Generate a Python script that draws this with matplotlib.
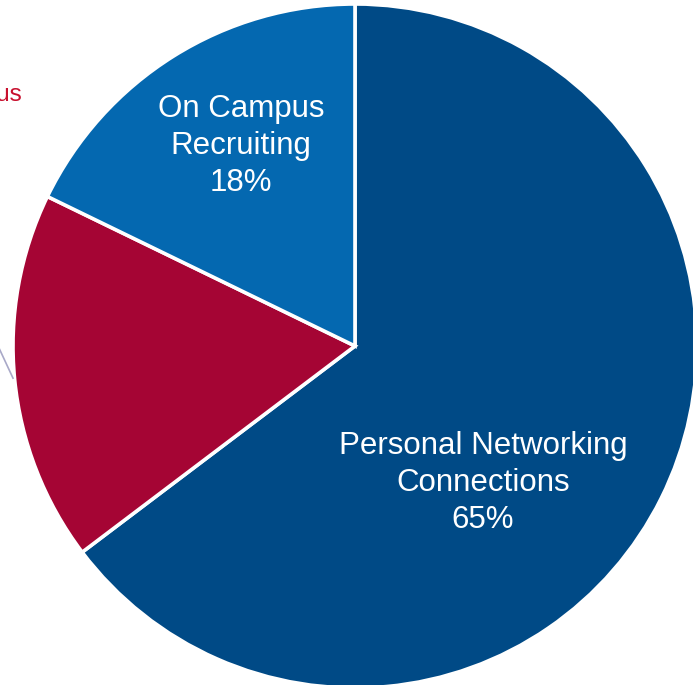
import numpy as np
import matplotlib.pyplot as plt

plt.rcParams['font.family'] = ['Liberation Sans', 'DejaVu Sans']

# donnees du camembert
labels = ["Personal Networking\nConnections", "Off Campus", "On Campus\nRecruiting"]
values = [64.7, 17.5, 17.8]
colors = ["#004A86", "#A50534", "#0468B0"]

fig = plt.figure(figsize=(6.93, 6.85), dpi=100)
# carre qui contient le disque, centre (355,346) px, rayon 342 px
ax = fig.add_axes([13/693, -3/685, 684/693, 684/685])

ax.pie(values, colors=colors, startangle=90, counterclock=False, radius=1,
       wedgeprops=dict(edgecolor="white", linewidth=2.6))
ax.set_xlim(-1, 1)
ax.set_ylim(-1, 1)
ax.axis("off")

# etiquettes dans les parts
ax.text(0.374, -0.40, labels[0] + "\n%d%%" % round(values[0]), color="white",
        fontsize=22.5, ha="center", va="center", linespacing=1.3)
ax.text(-0.333, 0.585, labels[2] + "\n%d%%" % round(values[2]), color="white",
        fontsize=22.5, ha="center", va="center", linespacing=1.3)

# etiquette exterieure (coupee par le bord)
ax.text(-0.974, 0.715, labels[1], color="#C8102E", fontsize=17.5,
        ha="right", va="baseline", clip_on=False)
ax.plot([-1.1, -1.0], [0.121, -0.094], color="#A9A9C8", linewidth=1.2,
        clip_on=False)

fig.savefig("out.png", dpi=100)
